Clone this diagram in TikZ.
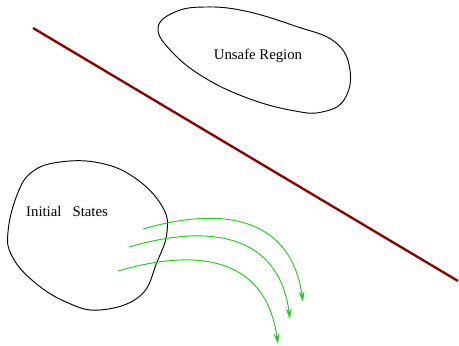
\documentclass[tikz,border=0pt]{standalone}
\usepackage{fontspec}
\setmainfont{Liberation Serif}
\usepackage{tikz}
\usetikzlibrary{arrows.meta}

\definecolor{barrier}{RGB}{140,0,0}
\definecolor{trajgreen}{RGB}{30,205,30}

\begin{document}
\begin{tikzpicture}[x=0.03cm,y=-0.03cm,
    region/.style={draw=black,line width=0.8pt},
    traj/.style={draw=trajgreen,line width=0.8pt,-{Stealth[length=9pt,width=5pt]}},
    lbl/.style={font=\fontsize{12.6}{14}\selectfont}]

\useasboundingbox (0,0) rectangle (459,346);

% separating line
\draw[barrier,line width=2pt] (33,28) -- (458,281);

% unsafe set
\draw[region] plot[smooth cycle,tension=0.7] coordinates
  {(158,28) (175,12) (205,7) (245,11) (295,26) (335,42) (350,70) (344,100)
   (322,112) (295,111) (250,99) (205,78) (172,52)};
\node[lbl] (unsafe) at (258,56) {Unsafe Region};

% initial set
\draw[region] plot[smooth cycle,tension=0.7] coordinates
  {(60,162) (100,163) (135,178) (162,206) (167,232) (157,262) (140,296)
   (100,310) (66,302) (33,281) (12,256) (8,232) (17,195) (32,172)};
\node[lbl] (init) at (67,211) {Initial\ \ \ States};

% trajectories
\coordinate (s1) at (143,229);
\coordinate (e1) at (303,302);
\coordinate (s2) at (129,247);
\coordinate (e2) at (290,319);
\coordinate (s3) at (118,271);
\coordinate (e3) at (278,344);

\draw[traj] (s1) .. controls (215,208) and (290,212) .. (e1);
\draw[traj] (s2) .. controls (200,226) and (278,228) .. (e2);
\draw[traj] (s3) .. controls (190,250) and (265,252) .. (e3);

\end{tikzpicture}
\end{document}
